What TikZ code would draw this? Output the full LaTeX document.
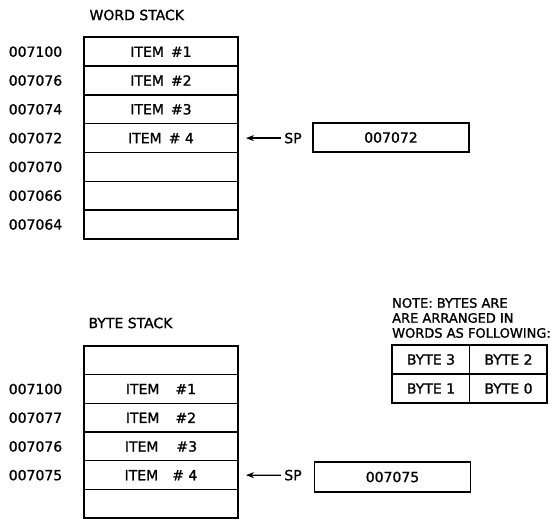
\documentclass[tikz,border=0pt]{standalone}
\usepackage{fontspec}
\setmainfont{DejaVu Sans}[FakeBold=1.2]
\usepackage{tikz}
\usetikzlibrary{arrows.meta, positioning}

\begin{document}
\begin{tikzpicture}[x=1pt, y=-1pt, >={Stealth[length=8pt,width=6pt]},
    font=\fontsize{14}{16}\selectfont,
    cell/.style={draw, line width=1.3pt, minimum width=154pt, minimum height=28.8pt, inner sep=0pt, outer sep=0pt},
    regbox/.style={draw, line width=1.8pt, minimum width=156pt, minimum height=29pt, inner sep=0pt},
    bytecell/.style={draw, line width=1.3pt, minimum width=77.5pt, minimum height=29pt, inner sep=0pt, outer sep=0pt}]
    \useasboundingbox (0,0) rectangle (558,519);

    % Word stack
    \node[anchor=west] (wtitle) at (86,15) {WORD STACK};
    \foreach \i/\txt in {1/{ITEM\hspace{7pt}\#1},2/{ITEM\hspace{7pt}\#2},3/{ITEM\hspace{7pt}\#3},4/{ITEM\hspace{7pt}\# 4},5/{},6/{},7/{}}
        \node[cell] (w\i) at (161,{37.3+28.8*(\i-0.5)}) {\txt};
    \draw[line width=2pt] (w1.north west) rectangle (w7.south east);

    % Word addresses
    \foreach \i/\addr in {1/007100,2/007076,3/007074,4/007072,5/007070,6/007066,7/007064}
        \node (wa\i) at (35.5,{37.3+28.8*(\i-0.5)}) {\addr};

    % Stack pointer (words)
    \node (wsp) at (293,138.1) {SP};
    \node[regbox] (wreg) at (391,137.5) {007072};
    \draw[->, line width=1.2pt] (wsp.west) -- ([xshift=8pt]w4.east);

    % Byte stack
    \node[anchor=west] (btitle) at (85,323) {BYTE STACK};
    \foreach \i/\txt in {1/{},2/{ITEM\hspace{16pt}\#1},3/{ITEM\hspace{16pt}\#2},4/{ITEM\hspace{18pt}\#3},5/{ITEM\hspace{14pt}\# 4},6/{}}
        \node[cell, minimum height=28.7pt] (b\i) at (161,{346+28.7*(\i-0.5)}) {\txt};
    \draw[line width=2pt] (b1.north west) rectangle (b6.south east);

    % Byte addresses
    \foreach \i/\addr in {2/007100,3/007077,4/007076,5/007075}
        \node (ba\i) at (35.5,{346+28.7*(\i-0.5)}) {\addr};

    % Stack pointer (bytes)
    \node (bsp) at (293,475.15) {SP};
    \node[regbox, minimum height=30pt] (breg) at (392.5,477) {007075};
    \draw[->, line width=1.2pt] (bsp.west) -- ([xshift=8pt]b5.east);

    % Note on byte order
    \node[anchor=west, align=left, inner sep=0pt, font=\fontsize{13}{15}\selectfont] (note) at (392,318)
        {NOTE: BYTES ARE\\ARE ARRANGED IN\\WORDS AS FOLLOWING:};
    \node[bytecell] (byte3) at (431,359.5) {BYTE 3};
    \node[bytecell, right=0pt of byte3] (byte2) {BYTE 2};
    \node[bytecell, below=0pt of byte3] (byte1) {BYTE 1};
    \node[bytecell, right=0pt of byte1] (byte0) {BYTE 0};
    \draw[line width=2pt] (byte3.north west) rectangle (byte0.south east);
\end{tikzpicture}
\end{document}
